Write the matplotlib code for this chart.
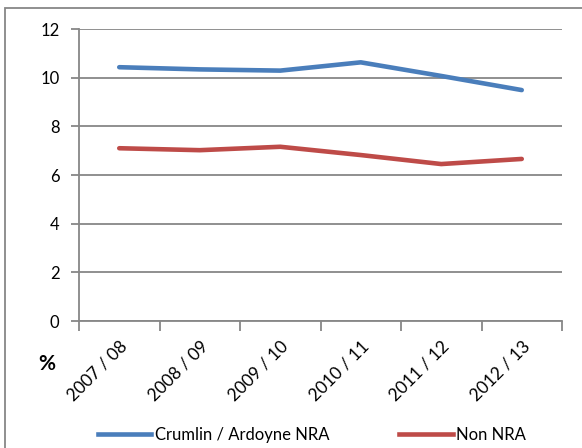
import numpy as np
import matplotlib.pyplot as plt
from matplotlib.lines import Line2D
from matplotlib.patches import Rectangle

plt.rcParams['font.family'] = ['Lato', 'DejaVu Sans']

years = ["2007 / 08", "2008 / 09", "2009 / 10", "2010 / 11", "2011 / 12", "2012 / 13"]
crumlin = [10.43, 10.34, 10.29, 10.63, 10.07, 9.49]
non_nra = [7.10, 7.02, 7.16, 6.82, 6.45, 6.66]

blue = "#4A7EBB"
red = "#BE4B48"
grey = "#878787"

fig = plt.figure(figsize=(5.82, 4.48), dpi=100)
ax = fig.add_axes([79/582, 1 - 321/448, (562 - 79)/582, (321 - 29)/448])

x = np.arange(len(years))
ax.plot(x, crumlin, color=blue, lw=3.3, solid_capstyle='round')
ax.plot(x, non_nra, color=red, lw=3.3, solid_capstyle='round')

ax.set_xlim(-0.5, len(years) - 0.5)
ax.set_ylim(0, 12)
ax.set_yticks(range(0, 13, 2))
ax.yaxis.grid(True, color=grey, lw=1.3)
ax.set_axisbelow(True)

# category ticks sit between the labels, Excel style
ax.set_xticks(np.arange(-0.5, len(years)), minor=False)
ax.set_xticklabels([])
ax.set_xticks(x, minor=True)
ax.set_xticklabels(years, minor=True, rotation=45, ha='right', va='top',
                   rotation_mode='anchor', fontsize=12.5)
ax.tick_params(axis='x', which='minor', length=0, pad=12)
ax.tick_params(axis='x', which='major', length=7, color=grey, width=1.3)
ax.tick_params(axis='y', length=6, color=grey, width=1.3, labelsize=12, pad=8)

for s in ['top', 'right']:
    ax.spines[s].set_visible(False)
for s in ['left', 'bottom']:
    ax.spines[s].set_color(grey)
    ax.spines[s].set_linewidth(1.3)

fig.text(47/582, 1 - 364/448, "%", fontsize=15, fontweight='bold', ha='center', va='center')

handles = [Line2D([], [], color=blue, lw=3.3), Line2D([], [], color=red, lw=3.3)]
fig.legend(handles, ["Crumlin / Ardoyne NRA", "Non NRA"], loc='center',
           bbox_to_anchor=(312/582, 1 - 435/448), ncol=2, frameon=False, fontsize=12,
           handlelength=3.2, handletextpad=0.2, columnspacing=4.2)

fig.patches.append(Rectangle((5/582, -0.1), 1.2, 1 - 8/448 + 0.1, transform=fig.transFigure,
                             fill=False, edgecolor=grey, lw=1.3))

fig.savefig("out.png", dpi=100)
